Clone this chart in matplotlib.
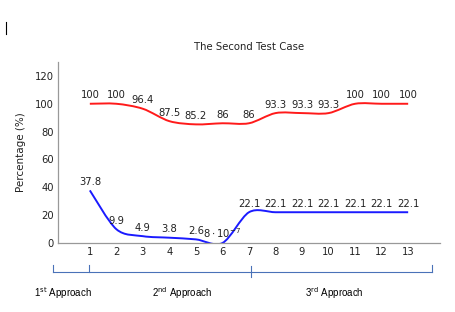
import numpy as np
import matplotlib.pyplot as plt
from matplotlib.path import Path
from matplotlib.patches import PathPatch
from matplotlib.lines import Line2D

plt.rcParams['font.family'] = ['DejaVu Sans']
plt.rcParams['mathtext.fontset'] = 'dejavusans'

# datos
x = np.arange(1, 14)
red_vals = [100, 100, 96.4, 87.5, 85.2, 86, 86, 93.3, 93.3, 93.3, 100, 100, 100]
blue_vals = [37.8, 9.9, 4.9, 3.8, 2.6, 8e-7, 22.1, 22.1, 22.1, 22.1, 22.1, 22.1, 22.1]
red_labels = ['100', '100', '96.4', '87.5', '85.2', '86', '86', '93.3', '93.3', '93.3', '100', '100', '100']
blue_labels = ['37.8', '9.9', '4.9', '3.8', '2.6', r'$8\cdot10^{-7}$', '22.1', '22.1', '22.1',
               '22.1', '22.1', '22.1', '22.1']
approaches = [('1', 'st'), ('2', 'nd'), ('3', 'rd')]


def smooth_path(xs, ys, k=0.153):
    """Curva suave tipo tikz (bezier cubica)"""
    p = np.column_stack([xs, ys]).astype(float)
    n = len(p)
    verts = [p[0]]
    codes = [Path.MOVETO]
    for i in range(n - 1):
        prev = p[i - 1] if i > 0 else p[i]
        nxt = p[i + 2] if i + 2 < n else p[i + 1]
        c1 = p[i] + k * (p[i + 1] - prev)
        c2 = p[i + 1] - k * (nxt - p[i])
        verts += [c1, c2, p[i + 1]]
        codes += [Path.CURVE4] * 3
    return Path(verts, codes)


fig = plt.figure(figsize=(4.55, 3.12), dpi=100)
ax = fig.add_axes([58 / 455, 1 - 243 / 312, 382 / 455, 181 / 312])

ax.add_patch(PathPatch(smooth_path(x, red_vals), fill=False, edgecolor='#ff1a1a', lw=1.4))
ax.add_patch(PathPatch(smooth_path(x, blue_vals), fill=False, edgecolor='#1a1aff', lw=1.4))

for xi, v, lab in zip(x, red_vals, red_labels):
    ax.annotate(lab, (xi, v), xytext=(0, 2.5), textcoords='offset points',
                ha='center', va='bottom', fontsize=7.2, color='#222222')
for xi, v, lab in zip(x, blue_vals, blue_labels):
    ax.annotate(lab, (xi, v), xytext=(0, 2.5), textcoords='offset points',
                ha='center', va='bottom', fontsize=7.2, color='#222222')

ax.set_xlim(-0.2, 14.2)
ax.set_ylim(0, 130)
ax.set_xticks(x)
ax.set_yticks([0, 20, 40, 60, 80, 100, 120])
ax.tick_params(length=0, labelsize=7.2, pad=3, colors='#222222')
for s in ['top', 'right']:
    ax.spines[s].set_visible(False)
for s in ['left', 'bottom']:
    ax.spines[s].set_color('#999999')
    ax.spines[s].set_linewidth(0.9)
ax.set_title('The Second Test Case', fontsize=7.3, pad=9, color='#222222')
ax.set_ylabel('Percentage (%)', fontsize=7.5, labelpad=6, color='#222222')

# corchetes de los enfoques
W, H = 455, 312
bc = '#4a72b8'
def fl(xs, ys):
    fig.add_artist(Line2D([v / W for v in xs], [1 - v / H for v in ys], color=bc, lw=0.8))

fl([53, 432], [272, 272])
fl([53, 53], [265, 272])
fl([89, 89], [265, 272])
fl([251, 251], [266, 277])
fl([432, 432], [265, 272])

for (num, sup), xc in zip(approaches, [63, 182, 334]):
    fig.text(xc / W, 1 - 293 / H, rf'{num}$^{{\mathrm{{{sup}}}}}$ Approach',
             ha='center', va='center', fontsize=7, family='Liberation Sans')

# cursor
fig.add_artist(Line2D([6 / W, 6 / W], [1 - 22 / H, 1 - 34 / H], color='black', lw=0.8))

fig.savefig('out.png', dpi=100)
